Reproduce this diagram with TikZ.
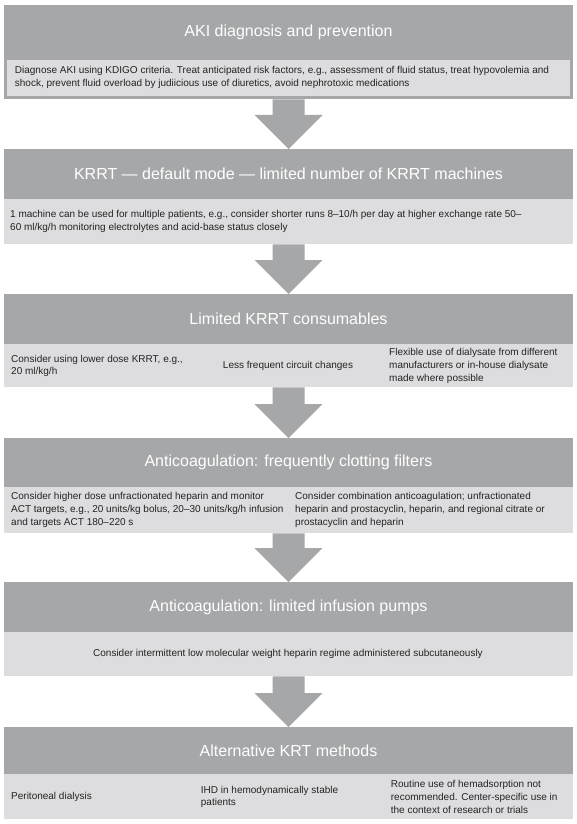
\documentclass[tikz,border=0pt]{standalone}
\usepackage{fontspec}
\setmainfont{Liberation Sans}
\usetikzlibrary{calc}
\definecolor{hdr}{RGB}{166,167,169}
\definecolor{band}{RGB}{221,221,223}
\definecolor{txt}{RGB}{35,35,35}
\begin{document}
\begin{tikzpicture}[x=1pt,y=-1pt,
  hdrbox/.style={fill=hdr, draw=none, minimum width=569pt, inner sep=0pt, text=white, font=\fontsize{16}{18}\selectfont},
  bandbox/.style={fill=band, draw=none, minimum width=569pt, inner sep=0pt},
  bodytxt/.style={inner sep=0pt, text=txt, font=\fontsize{10}{12.6}\selectfont, align=left, anchor=west},
  arrowfill/.style={fill=hdr}]
\useasboundingbox[fill=white] (0,0) rectangle (576,824);

% Block 1
\node[hdrbox, minimum height=55pt, anchor=north] (h1) at (288.5,5) {AKI diagnosis and prevention};
\node[hdrbox, minimum height=39pt, anchor=north] (f1) at (288.5,60) {};
\node[bandbox, minimum width=563.5pt, minimum height=35.5pt, anchor=north] (b1) at (288.5,60) {};
\node[bodytxt, font=\fontsize{10}{13.2}\selectfont] (t1) at (14.7,77.7) {Diagnose AKI using KDIGO criteria. Treat anticipated risk factors, e.g., assessment of fluid status, treat hypovolemia and\\shock, prevent fluid overload by judiicious use of diuretics, avoid nephrotoxic medications};

% Block 2
\node[hdrbox, minimum height=50pt, anchor=north] (h2) at (288.5,149) {KRRT — default mode — limited number of KRRT machines};
\node[bandbox, minimum height=45pt, anchor=north] (b2) at (288.5,199) {};
\node[bodytxt] (t2) at (10,221.3) {1 machine can be used for multiple patients, e.g., consider shorter runs 8–10/h per day at higher exchange rate 50–\\60 ml/kg/h monitoring electrolytes and acid-base status closely};

% Block 3
\node[hdrbox, minimum height=50pt, anchor=north] (h3) at (288.5,294) {Limited KRRT consumables};
\node[bandbox, minimum height=43pt, anchor=north] (b3) at (288.5,344) {};
\node[bodytxt] (t3a) at (11,366) {Consider using lower dose KRRT, e.g.,\\20 ml/kg/h};
\node[bodytxt, anchor=center] (t3b) at (288,365.5) {Less frequent circuit changes};
\node[bodytxt] (t3c) at (389,366) {Flexible use of dialysate from different\\manufacturers or in-house dialysate\\made where possible};

% Block 4
\node[hdrbox, minimum height=49pt, anchor=north] (h4) at (288.5,438) {Anticoagulation: frequently clotting filters};
\node[bandbox, minimum height=46pt, anchor=north] (b4) at (288.5,487) {};
\node[bodytxt] (t4a) at (11,510) {Consider higher dose unfractionated heparin and monitor\\ACT targets, e.g., 20 units/kg bolus, 20–30 units/kg/h infusion\\and targets ACT 180–220 s};
\node[bodytxt] (t4b) at (295,510) {Consider combination anticoagulation; unfractionated\\heparin and prostacyclin, heparin, and regional citrate or\\prostacyclin and heparin};

% Block 5
\node[hdrbox, minimum height=50pt, anchor=north] (h5) at (288.5,582) {Anticoagulation: limited infusion pumps};
\node[bandbox, minimum height=44pt, anchor=north] (b5) at (288.5,632) {};
\node[bodytxt, anchor=center] (t5) at (288,654) {Consider intermittent low molecular weight heparin regime administered subcutaneously};

% Block 6
\node[hdrbox, minimum height=47pt, anchor=north] (h6) at (288.5,727) {Alternative KRT methods};
\node[bandbox, minimum height=45pt, anchor=north] (b6) at (288.5,774) {};
\node[bodytxt] (t6a) at (11,797) {Peritoneal dialysis};
\node[bodytxt] (t6b) at (200.7,797) {IHD in hemodynamically stable\\patients};
\node[bodytxt] (t6c) at (390.7,797) {Routine use of hemadsorption not\\recommended. Center-specific use in\\the context of research or trials};

% Arrows
\foreach \a/\b in {f1/h2, b2/h3, b3/h4, b4/h5, b5/h6}
  \fill[arrowfill] ($(\a.south)+(-16,0)$) -- ($(\a.south)+(16,0)$) -- ($(\b.north)+(16,-34)$) -- ($(\b.north)+(34,-34)$) -- (\b.north) -- ($(\b.north)+(-34,-34)$) -- ($(\b.north)+(-16,-34)$) -- cycle;
\end{tikzpicture}
\end{document}
